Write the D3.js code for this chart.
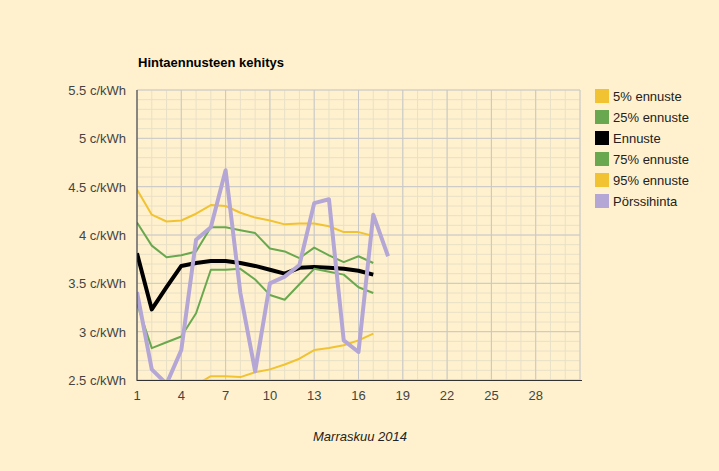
<!DOCTYPE html>
<html><head><meta charset="utf-8">
<script src="https://cdn.jsdelivr.net/npm/d3@7"></script>
<style>body{margin:0;background:#fff1cd;font-family:"Liberation Sans",Arial,sans-serif}</style>
</head><body><svg id="c" width="719" height="471"></svg>
<script>
var days = d3.range(1, 19);
var p5 = [4.47,4.21,4.14,4.15,4.22,4.31,4.30,4.23,4.18,4.15,4.11,4.12,4.12,4.09,4.03,4.03,3.99];
var p25 = [4.13,3.89,3.77,3.79,3.83,4.08,4.08,4.05,4.02,3.86,3.83,3.76,3.87,3.79,3.72,3.78,3.71];
var ennuste = [3.81,3.23,3.46,3.68,3.71,3.73,3.73,3.71,3.68,3.64,3.60,3.66,3.67,3.66,3.65,3.63,3.59];
var p75 = [3.29,2.83,2.89,2.95,3.19,3.64,3.64,3.65,3.54,3.38,3.33,3.49,3.65,3.62,3.59,3.46,3.40];
var p95 = [2.2,2.1,2.1,2.2,2.45,2.54,2.54,2.53,2.58,2.61,2.66,2.72,2.81,2.83,2.86,2.91,2.98];
var porssi = [3.41,2.61,2.46,2.81,3.95,4.08,4.67,3.40,2.59,3.50,3.57,3.69,4.33,4.37,2.91,2.79,4.21,3.78];
var xTicks = [1,4,7,10,13,16,19,22,25,28];
var yTicks = [2.5,3,3.5,4,4.5,5,5.5];

var series = [
  {name:"5% ennuste", v:p5, c:"#f1c232", w:2},
  {name:"25% ennuste", v:p25, c:"#6aa84f", w:2},
  {name:"Ennuste", v:ennuste, c:"#000000", w:4},
  {name:"75% ennuste", v:p75, c:"#6aa84f", w:2},
  {name:"95% ennuste", v:p95, c:"#f1c232", w:2},
  {name:"Pörssihinta", v:porssi, c:"#b4a7d6", w:4}
];

var svg = d3.select("#c");
var x = d3.scaleLinear().domain([1,31]).range([137,580]);
var y = d3.scaleLinear().domain([2.5,5.5]).range([380,90]);

svg.append("defs").append("clipPath").attr("id","clip")
  .append("rect").attr("x",137).attr("y",88).attr("width",445).attr("height",292);

var g = svg.append("g");
// minor grid
g.selectAll(".vm").data(d3.range(1,32)).enter().append("line")
  .attr("x1",function(d){return x(d);}).attr("x2",function(d){return x(d);})
  .attr("y1",90).attr("y2",380).attr("stroke","#e8e0c8").attr("stroke-width",1);
g.selectAll(".hm").data(d3.range(25,56).map(function(d){return d/10;})).enter().append("line")
  .attr("y1",function(d){return y(d);}).attr("y2",function(d){return y(d);})
  .attr("x1",137).attr("x2",580).attr("stroke","#e8e0c8");
// major grid
g.selectAll(".vM").data(xTicks.concat([31])).enter().append("line")
  .attr("x1",function(d){return x(d);}).attr("x2",function(d){return x(d);})
  .attr("y1",90).attr("y2",380).attr("stroke","#c8c8c8");
g.selectAll(".hM").data(yTicks).enter().append("line")
  .attr("y1",function(d){return y(d);}).attr("y2",function(d){return y(d);})
  .attr("x1",137).attr("x2",580).attr("stroke","#c8c8c8");

var line = d3.line().x(function(d,i){return x(i+1);}).y(function(d){return y(d);});
svg.append("g").attr("clip-path","url(#clip)").selectAll("path").data(series).enter().append("path")
  .attr("d",function(d){return line(d.v);}).attr("fill","none")
  .attr("stroke",function(d){return d.c;}).attr("stroke-width",function(d){return d.w;})
  .attr("stroke-linejoin","round");

// axes
svg.append("line").attr("x1",137).attr("x2",137).attr("y1",90).attr("y2",381).attr("stroke","#333");
svg.append("line").attr("x1",137).attr("x2",582).attr("y1",380.5).attr("y2",380.5).attr("stroke","#333");
svg.selectAll(".yt").data(yTicks).enter().append("text")
  .attr("x",126).attr("y",function(d){return y(d)+5;}).attr("text-anchor","end")
  .attr("font-size",13).attr("fill","#444").text(function(d){return d+" c/kWh";});
svg.selectAll(".xt").data(xTicks).enter().append("text")
  .attr("x",function(d){return x(d);}).attr("y",400).attr("text-anchor","middle")
  .attr("font-size",13).attr("fill","#444").text(function(d){return d;});

svg.append("text").attr("x",138).attr("y",67).attr("font-size",13).attr("font-weight","bold")
  .text("Hintaennusteen kehitys");
svg.append("text").attr("x",360).attr("y",441).attr("text-anchor","middle").attr("font-size",13)
  .attr("font-style","italic").attr("fill","#222").text("Marraskuu 2014");

var lg = svg.selectAll(".lg").data(series).enter().append("g")
  .attr("transform",function(d,i){return "translate(595,"+(89+i*21)+")";});
lg.append("rect").attr("width",14).attr("height",14).attr("fill",function(d){return d.c;});
lg.append("text").attr("x",18).attr("y",12).attr("font-size",13).attr("fill","#222").text(function(d){return d.name;});
</script></body></html>
